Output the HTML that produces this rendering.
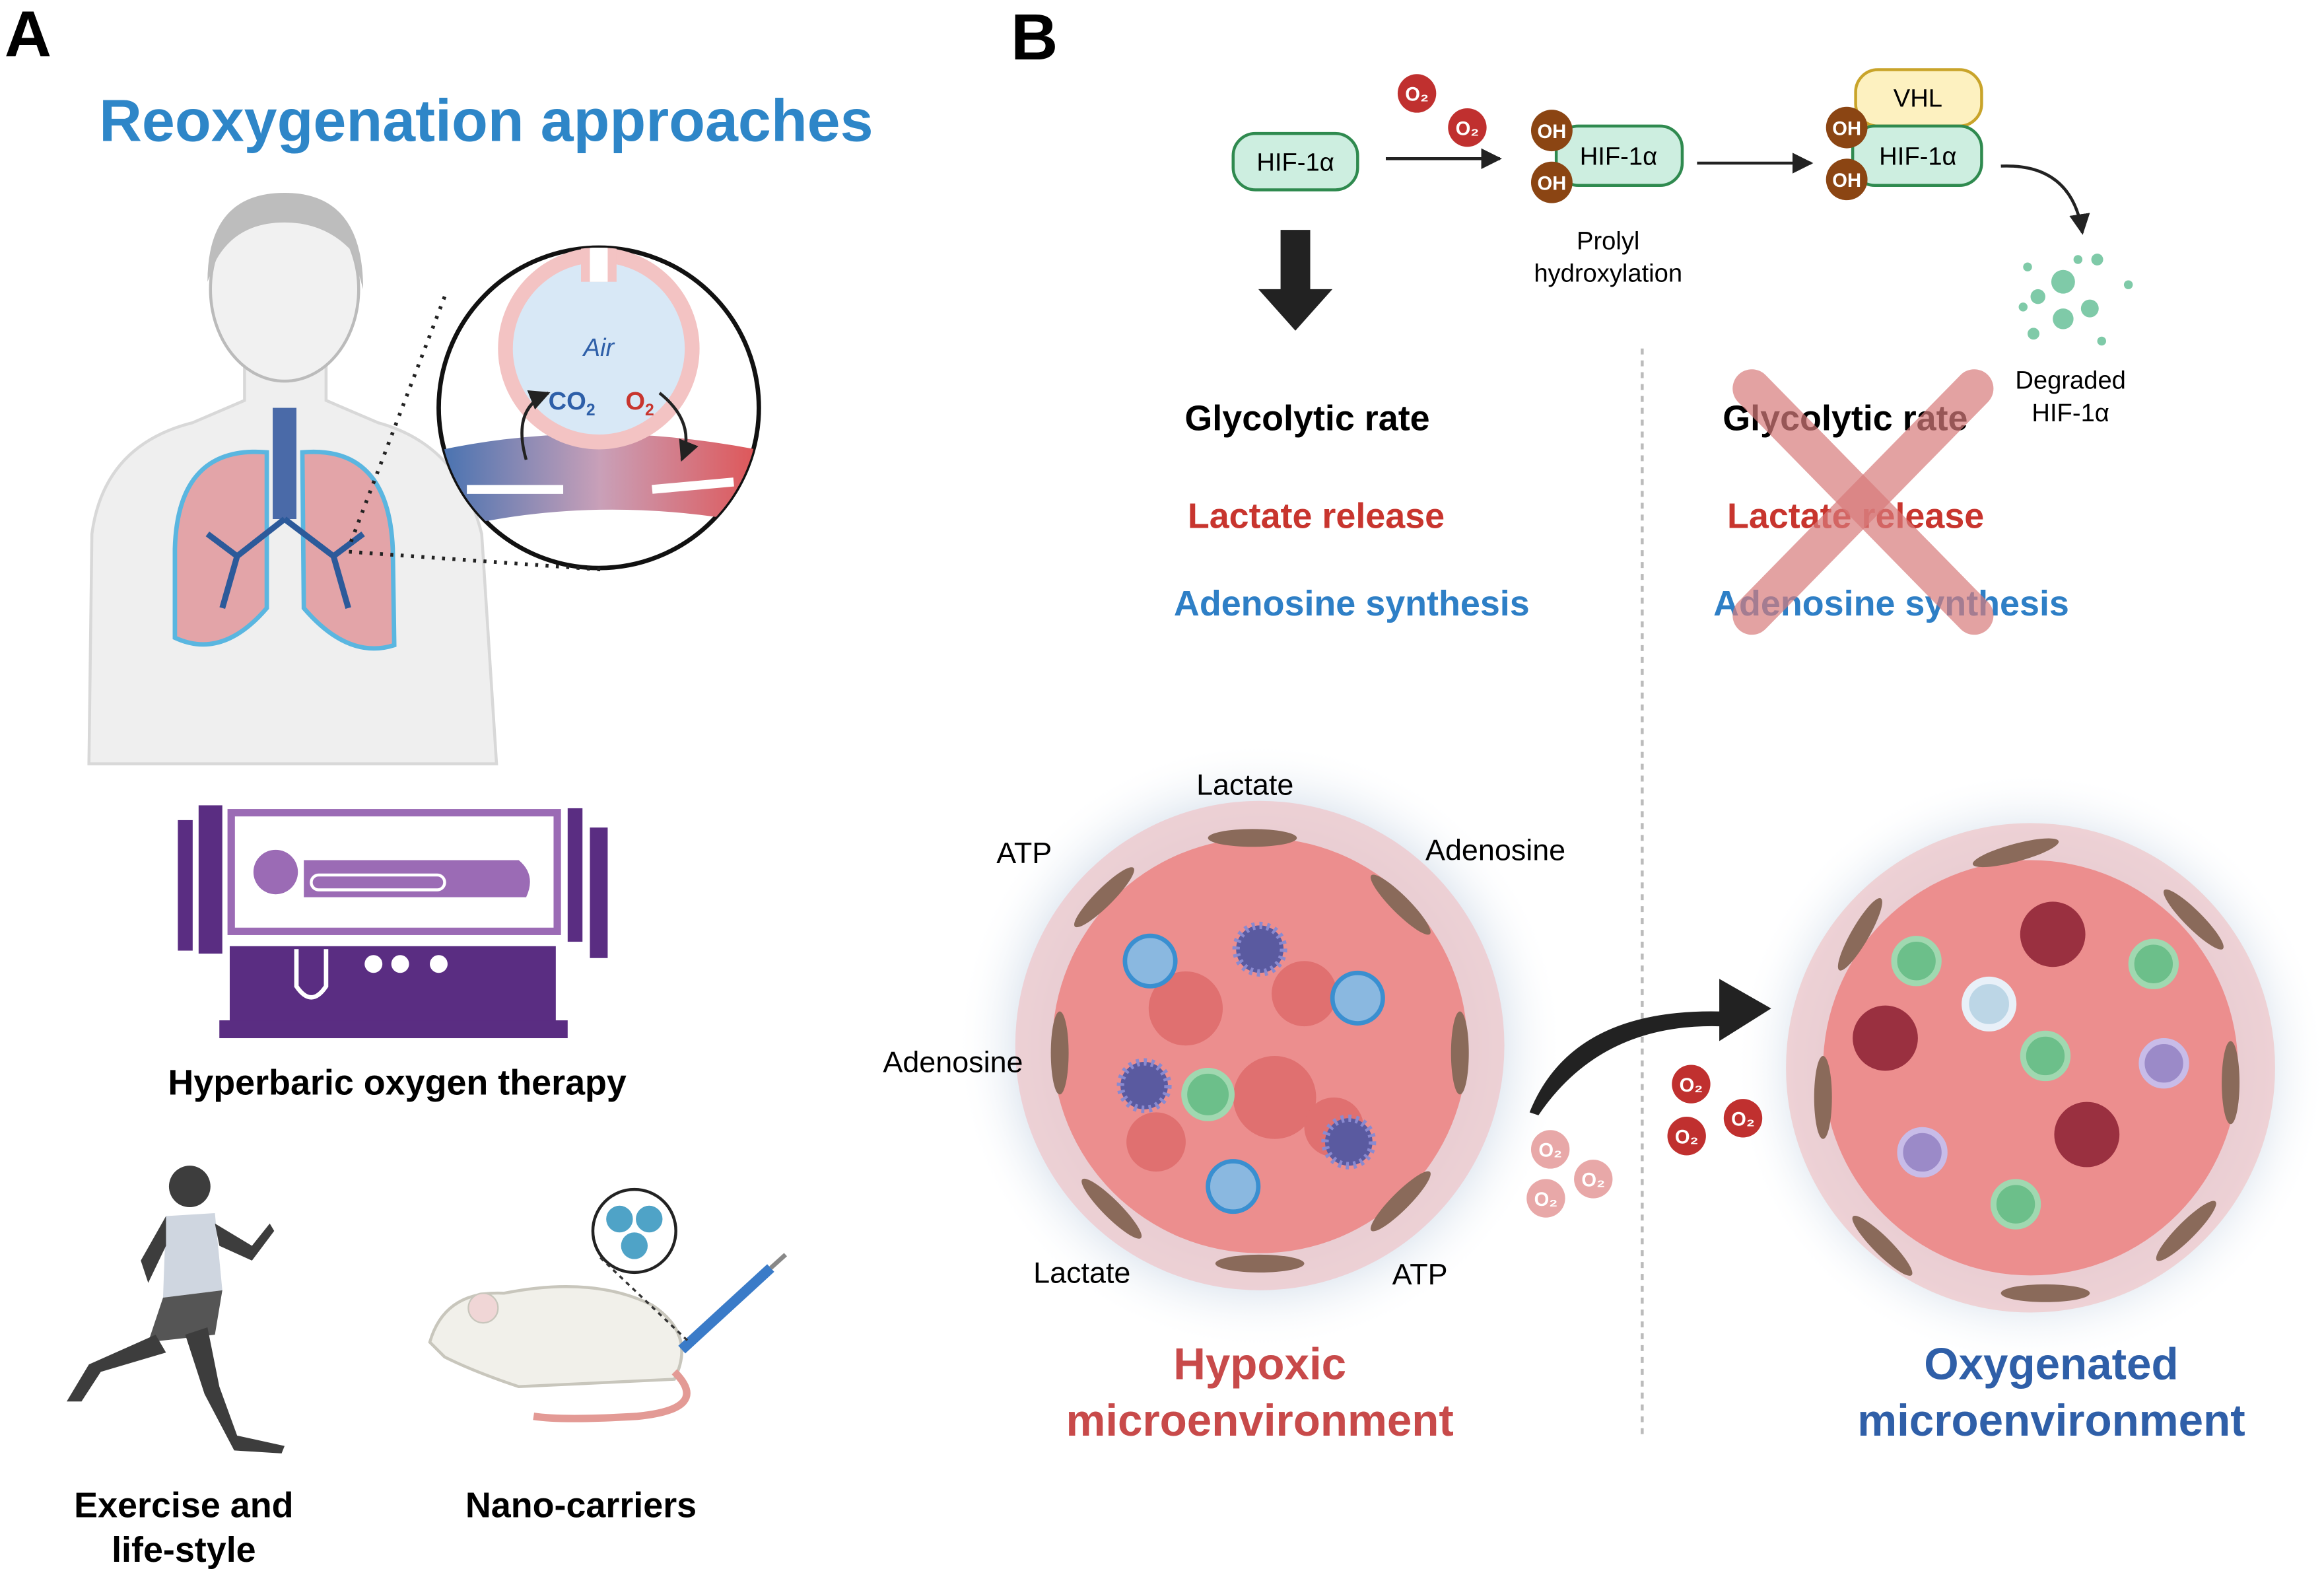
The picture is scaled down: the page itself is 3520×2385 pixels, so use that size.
<!DOCTYPE html>
<html><head><meta charset="utf-8">
<style>
html,body{margin:0;padding:0;background:#fff;}
svg{display:block;}
text{font-family:"Liberation Sans",sans-serif;}
</style></head>
<body>
<svg width="3520" height="2385" viewBox="0 0 1568 1062" preserveAspectRatio="none" xmlns="http://www.w3.org/2000/svg">
<defs>
<radialGradient id="glow" cx="50%" cy="50%" r="50%">
<stop offset="0.55" stop-color="#cdd8e6"/><stop offset="0.8" stop-color="#e6ecf3"/><stop offset="1" stop-color="#fff" stop-opacity="0"/></radialGradient>
<linearGradient id="vessel" x1="0" x2="1"><stop offset="0" stop-color="#3f6fb0"/><stop offset="0.5" stop-color="#c9a0b8"/><stop offset="1" stop-color="#e05050"/></linearGradient>
<marker id="ah" viewBox="0 0 10 10" refX="9" refY="5" markerWidth="7" markerHeight="7" orient="auto"><path d="M0,0L10,5L0,10z" fill="#222"/></marker>
<clipPath id="cc"><circle cx="404" cy="275" r="108"/></clipPath>
</defs>
<rect width="1568" height="1062" fill="#fff"/>
<text x="3" y="38" font-size="44" font-weight="bold">A</text>
<text x="682" y="40" font-size="44" font-weight="bold">B</text>
<text x="328" y="95" font-size="40" font-weight="bold" fill="#2e86c8" text-anchor="middle">Reoxygenation approaches</text>

<!-- person -->
<path d="M60,515 L62,360 Q70,300 130,285 L165,270 L165,235 L220,235 L220,270 L255,285 Q310,300 325,360 L335,515 Z" fill="#efefef" stroke="#d8d8d8" stroke-width="2"/>
<ellipse cx="192" cy="195" rx="50" ry="62" fill="#f1f1f1" stroke="#bbb" stroke-width="2"/>
<path d="M140,190 Q140,130 192,130 Q245,130 245,195 L238,170 Q220,150 192,150 Q160,150 146,175 Z" fill="#bdbdbd"/>
<rect x="184" y="275" width="16" height="75" fill="#4a6aa8"/>
<path d="M180,305 Q120,300 118,370 L118,430 Q150,445 180,410 Z" fill="#e3a4a8" stroke="#5ab6e0" stroke-width="3"/>
<path d="M204,305 Q262,300 265,370 L266,435 Q235,445 205,410 Z" fill="#e3a4a8" stroke="#5ab6e0" stroke-width="3"/>
<path d="M192,350 L160,375 M160,375 L140,360 M160,375 L150,410 M192,350 L225,375 M225,375 L245,360 M225,375 L235,410" stroke="#2c5a9a" stroke-width="4" fill="none"/>
<circle cx="404" cy="275" r="108" fill="#fff" stroke="#111" stroke-width="3"/>
<g clip-path="url(#cc)">
<path d="M290,305 Q400,280 520,305 L520,355 Q400,330 290,360 Z" fill="url(#vessel)"/>
<circle cx="404" cy="235" r="68" fill="#f3c3c3"/>
<circle cx="404" cy="235" r="58" fill="#d8e8f6"/>
<rect x="392" y="160" width="24" height="30" fill="#f3c3c3"/><rect x="398" y="160" width="12" height="30" fill="#fff"/>
<path d="M315,330 L380,330" stroke="#fff" stroke-width="6"/><path d="M440,330 L495,325" stroke="#fff" stroke-width="6"/>
</g>
<line x1="300" y1="200" x2="235" y2="370" stroke="#222" stroke-width="2.5" stroke-dasharray="2 5"/>
<line x1="405" y1="384" x2="235" y2="372" stroke="#222" stroke-width="2.5" stroke-dasharray="2 5"/>
<text x="404" y="240" font-size="17" font-style="italic" fill="#2e5fa8" text-anchor="middle">Air</text>
<text x="370" y="276" font-size="17" font-weight="bold" fill="#2e5fa8">CO<tspan font-size="11" dy="4">2</tspan></text>
<text x="422" y="276" font-size="17" font-weight="bold" fill="#c8352e">O<tspan font-size="11" dy="4">2</tspan></text>
<path d="M355,310 Q345,275 370,265" fill="none" stroke="#222" stroke-width="2" marker-end="url(#ah)"/>
<path d="M445,265 Q470,285 460,310" fill="none" stroke="#222" stroke-width="2" marker-end="url(#ah)"/>

<!-- chamber -->
<rect x="120" y="553" width="10" height="88" fill="#5a2d82"/>
<rect x="134" y="543" width="16" height="100" fill="#5a2d82"/>
<rect x="383" y="545" width="10" height="90" fill="#5a2d82"/>
<rect x="398" y="558" width="12" height="88" fill="#5a2d82"/>
<rect x="156" y="548" width="220" height="80" fill="none" stroke="#9b6bb5" stroke-width="5"/>
<circle cx="186" cy="588" r="15" fill="#9b6bb5"/>
<path d="M205,580 L350,580 Q362,590 355,605 L205,605 Z" fill="#9b6bb5"/>
<rect x="210" y="590" width="90" height="10" rx="5" fill="none" stroke="#fff" stroke-width="2"/>
<rect x="155" y="638" width="220" height="52" fill="#5a2d82"/>
<rect x="148" y="688" width="235" height="12" fill="#5a2d82"/>
<path d="M200,640 L200,665 Q210,680 220,665 L220,640" fill="none" stroke="#fff" stroke-width="3"/>
<circle cx="252" cy="650" r="6" fill="#fff"/><circle cx="270" cy="650" r="6" fill="#fff"/><circle cx="296" cy="650" r="6" fill="#fff"/>
<text x="268" y="738" font-size="24" font-weight="bold" text-anchor="middle">Hyperbaric oxygen therapy</text>

<!-- runner -->
<g fill="#3d3d3d">
<circle cx="128" cy="800" r="14"/>
<path d="M112,820 L145,818 L150,870 L110,875 Z" fill="#cfd6e0"/>
<path d="M112,820 L95,850 L100,865 L112,840 Z"/>
<path d="M145,825 L170,840 L182,825 L185,830 L170,850 L148,840 Z"/>
<path d="M110,875 L150,870 L145,900 L100,905 Z" fill="#555"/>
<path d="M105,900 L60,920 L45,945 L55,945 L68,925 L112,912 Z"/>
<path d="M140,895 L148,935 L160,968 L192,975 L190,980 L158,978 L138,940 L125,900 Z"/>
</g>
<text x="124" y="1023" font-size="24" font-weight="bold" text-anchor="middle">Exercise and</text>
<text x="124" y="1053" font-size="24" font-weight="bold" text-anchor="middle">life-style</text>

<!-- rat -->
<path d="M290,905 Q300,870 340,872 Q400,860 440,880 Q470,900 455,930 L350,935 Q320,925 300,915 Z" fill="#f1f0ea" stroke="#c8c6bc" stroke-width="2"/>
<circle cx="326" cy="882" r="10" fill="#f0d6d6" stroke="#c8c6bc"/>
<path d="M455,925 Q480,950 430,955 Q380,958 360,955" fill="none" stroke="#e39a95" stroke-width="5"/>
<line x1="460" y1="910" x2="520" y2="855" stroke="#3a7bc8" stroke-width="7"/>
<line x1="520" y1="855" x2="530" y2="846" stroke="#888" stroke-width="3"/>
<circle cx="428" cy="830" r="28" fill="#fff" stroke="#222" stroke-width="2"/>
<circle cx="418" cy="822" r="9" fill="#4fa3c7"/><circle cx="438" cy="822" r="9" fill="#4fa3c7"/><circle cx="428" cy="840" r="9" fill="#4fa3c7"/>
<line x1="405" y1="848" x2="465" y2="905" stroke="#333" stroke-width="1.5" stroke-dasharray="3 3"/>
<text x="392" y="1023" font-size="24" font-weight="bold" text-anchor="middle">Nano-carriers</text>

<!-- B top -->
<rect x="832" y="90" width="84" height="38" rx="15" fill="#cdeee0" stroke="#2f8a4f" stroke-width="2"/>
<text x="874" y="115" font-size="17" text-anchor="middle">HIF-1α</text>
<line x1="935" y1="107" x2="1012" y2="107" stroke="#222" stroke-width="2" marker-end="url(#ah)"/>
<circle cx="956" cy="63" r="13" fill="#c0302f"/><text x="956" y="68" font-size="13" font-weight="bold" fill="#fff" text-anchor="middle">O₂</text>
<circle cx="990" cy="86" r="13" fill="#c0302f"/><text x="990" y="91" font-size="13" font-weight="bold" fill="#fff" text-anchor="middle">O₂</text>
<rect x="1050" y="85" width="85" height="40" rx="15" fill="#cdeee0" stroke="#2f8a4f" stroke-width="2"/>
<text x="1092" y="111" font-size="17" text-anchor="middle">HIF-1α</text>
<circle cx="1047" cy="88" r="14" fill="#8b4513"/><text x="1047" y="93" font-size="13" font-weight="bold" fill="#fff" text-anchor="middle">OH</text>
<circle cx="1047" cy="123" r="14" fill="#8b4513"/><text x="1047" y="128" font-size="13" font-weight="bold" fill="#fff" text-anchor="middle">OH</text>
<text x="1085" y="168" font-size="17" text-anchor="middle">Prolyl</text>
<text x="1085" y="190" font-size="17" text-anchor="middle">hydroxylation</text>
<line x1="1145" y1="110" x2="1222" y2="110" stroke="#222" stroke-width="2" marker-end="url(#ah)"/>
<rect x="1252" y="47" width="85" height="38" rx="15" fill="#fdf1c0" stroke="#c9a42a" stroke-width="2"/>
<text x="1294" y="72" font-size="17" text-anchor="middle">VHL</text>
<rect x="1250" y="85" width="87" height="40" rx="15" fill="#cdeee0" stroke="#2f8a4f" stroke-width="2"/>
<text x="1294" y="111" font-size="17" text-anchor="middle">HIF-1α</text>
<circle cx="1246" cy="86" r="14" fill="#8b4513"/><text x="1246" y="91" font-size="13" font-weight="bold" fill="#fff" text-anchor="middle">OH</text>
<circle cx="1246" cy="121" r="14" fill="#8b4513"/><text x="1246" y="126" font-size="13" font-weight="bold" fill="#fff" text-anchor="middle">OH</text>
<path d="M1350,112 Q1398,110 1405,157" fill="none" stroke="#222" stroke-width="2" marker-end="url(#ah)"/>
<g fill="#7fcaa8">
<circle cx="1392" cy="190" r="8"/><circle cx="1375" cy="200" r="5"/><circle cx="1410" cy="208" r="6"/><circle cx="1392" cy="215" r="7"/>
<circle cx="1368" cy="180" r="3"/><circle cx="1415" cy="175" r="4"/><circle cx="1436" cy="192" r="3"/><circle cx="1372" cy="225" r="4"/>
<circle cx="1418" cy="230" r="3"/><circle cx="1402" cy="175" r="3"/><circle cx="1365" cy="207" r="3"/>
</g>
<text x="1397" y="262" font-size="17" text-anchor="middle">Degraded</text>
<text x="1397" y="284" font-size="17" text-anchor="middle">HIF-1α</text>
<path d="M864,155 L884,155 L884,195 L899,195 L874,223 L849,195 L864,195 Z" fill="#222"/>
<line x1="1108" y1="235" x2="1108" y2="970" stroke="#bbb" stroke-width="2" stroke-dasharray="4 4"/>

<text x="882" y="290" font-size="24" font-weight="bold" text-anchor="middle">Glycolytic rate</text>
<text x="888" y="356" font-size="24" font-weight="bold" fill="#c8352e" text-anchor="middle">Lactate release</text>
<text x="912" y="415" font-size="24" font-weight="bold" fill="#2e7fc6" text-anchor="middle">Adenosine synthesis</text>
<text x="1245" y="290" font-size="24" font-weight="bold" text-anchor="middle">Glycolytic rate</text>
<text x="1252" y="356" font-size="24" font-weight="bold" fill="#c8352e" text-anchor="middle">Lactate release</text>
<text x="1276" y="415" font-size="24" font-weight="bold" fill="#2e7fc6" text-anchor="middle">Adenosine synthesis</text>
<g stroke="#d77a7a" stroke-opacity="0.7" stroke-width="26" stroke-linecap="round">
<line x1="1182" y1="262" x2="1332" y2="415"/><line x1="1332" y1="262" x2="1182" y2="415"/></g>

<!-- tumors -->
<circle cx="850" cy="705" r="205" fill="url(#glow)"/>
<circle cx="850" cy="705" r="165" fill="#f0c4c8" opacity="0.7"/>
<circle cx="850" cy="705" r="140" fill="#ec8e8e"/>
<g fill="#e07070"><circle cx="800" cy="680" r="25"/><circle cx="880" cy="670" r="22"/><circle cx="860" cy="740" r="28"/><circle cx="780" cy="770" r="20"/><circle cx="900" cy="760" r="20"/></g>
<g fill="#8ab8e0" stroke="#3a8fd0" stroke-width="3"><circle cx="776" cy="648" r="17"/><circle cx="916" cy="673" r="17"/><circle cx="832" cy="800" r="17"/></g>
<g fill="#5a5aa0" stroke="#8a8ad0" stroke-width="5" stroke-dasharray="2 3"><circle cx="850" cy="640" r="16"/><circle cx="772" cy="732" r="16"/><circle cx="910" cy="770" r="16"/></g>
<circle cx="815" cy="738" r="16" fill="#6cbf8a" stroke="#a0d8b0" stroke-width="4"/>
<g fill="#8a6a5a"><ellipse cx="845" cy="565" rx="30" ry="6"/><ellipse cx="745" cy="605" rx="28" ry="6" transform="rotate(-45 745 605)"/><ellipse cx="945" cy="610" rx="28" ry="6" transform="rotate(45 945 610)"/><ellipse cx="715" cy="710" rx="28" ry="6" transform="rotate(90 715 710)"/><ellipse cx="985" cy="710" rx="28" ry="6" transform="rotate(90 985 710)"/><ellipse cx="750" cy="815" rx="28" ry="6" transform="rotate(45 750 815)"/><ellipse cx="945" cy="810" rx="28" ry="6" transform="rotate(-45 945 810)"/><ellipse cx="850" cy="852" rx="30" ry="6"/></g>

<circle cx="1370" cy="720" r="200" fill="url(#glow)"/>
<circle cx="1370" cy="720" r="165" fill="#f0c4c8" opacity="0.7"/>
<circle cx="1370" cy="720" r="140" fill="#ec8e8e"/>
<g fill="#9a3040"><circle cx="1385" cy="630" r="22"/><circle cx="1272" cy="700" r="22"/><circle cx="1408" cy="765" r="22"/></g>
<g fill="#6cbf8a" stroke="#a0d8b0" stroke-width="4"><circle cx="1293" cy="648" r="15"/><circle cx="1453" cy="650" r="15"/><circle cx="1380" cy="712" r="15"/><circle cx="1360" cy="812" r="15"/></g>
<circle cx="1342" cy="677" r="16" fill="#bcd6e6" stroke="#e8f0f8" stroke-width="5"/>
<g fill="#9b8ac8" stroke="#c8bce8" stroke-width="4"><circle cx="1460" cy="717" r="15"/><circle cx="1297" cy="777" r="15"/></g>
<g fill="#8a6a5a"><ellipse cx="1360" cy="575" rx="30" ry="6" transform="rotate(-15 1360 575)"/><ellipse cx="1255" cy="630" rx="28" ry="6" transform="rotate(-60 1255 630)"/><ellipse cx="1480" cy="620" rx="28" ry="6" transform="rotate(45 1480 620)"/><ellipse cx="1230" cy="740" rx="28" ry="6" transform="rotate(90 1230 740)"/><ellipse cx="1505" cy="730" rx="28" ry="6" transform="rotate(90 1505 730)"/><ellipse cx="1270" cy="840" rx="28" ry="6" transform="rotate(45 1270 840)"/><ellipse cx="1475" cy="830" rx="28" ry="6" transform="rotate(-45 1475 830)"/><ellipse cx="1380" cy="872" rx="30" ry="6"/></g>

<text x="840" y="536" font-size="20" text-anchor="middle">Lactate</text>
<text x="691" y="582" font-size="20" text-anchor="middle">ATP</text>
<text x="1009" y="580" font-size="20" text-anchor="middle">Adenosine</text>
<text x="643" y="723" font-size="20" text-anchor="middle">Adenosine</text>
<text x="730" y="865" font-size="20" text-anchor="middle">Lactate</text>
<text x="958" y="866" font-size="20" text-anchor="middle">ATP</text>

<path d="M1032,750 Q1060,680 1160,682 L1160,660 L1195,680 L1160,702 L1160,692 Q1080,690 1038,752 Z" fill="#222"/>
<g font-size="13" font-weight="bold" fill="#fff" text-anchor="middle">
<circle cx="1046" cy="775" r="13" fill="#e8a8a8"/><text x="1046" y="780">O₂</text>
<circle cx="1075" cy="795" r="13" fill="#e8a8a8"/><text x="1075" y="800">O₂</text>
<circle cx="1043" cy="808" r="13" fill="#e8a8a8"/><text x="1043" y="813">O₂</text>
<circle cx="1141" cy="731" r="13" fill="#c0302f"/><text x="1141" y="736">O₂</text>
<circle cx="1176" cy="754" r="13" fill="#c0302f"/><text x="1176" y="759">O₂</text>
<circle cx="1138" cy="766" r="13" fill="#c0302f"/><text x="1138" y="771">O₂</text>
</g>

<text x="850" y="930" font-size="30" font-weight="bold" fill="#c84a4a" text-anchor="middle">Hypoxic</text>
<text x="850" y="968" font-size="30" font-weight="bold" fill="#c84a4a" text-anchor="middle">microenvironment</text>
<text x="1384" y="930" font-size="30" font-weight="bold" fill="#2f5fa8" text-anchor="middle">Oxygenated</text>
<text x="1384" y="968" font-size="30" font-weight="bold" fill="#2f5fa8" text-anchor="middle">microenvironment</text>
</svg>
</body></html>
